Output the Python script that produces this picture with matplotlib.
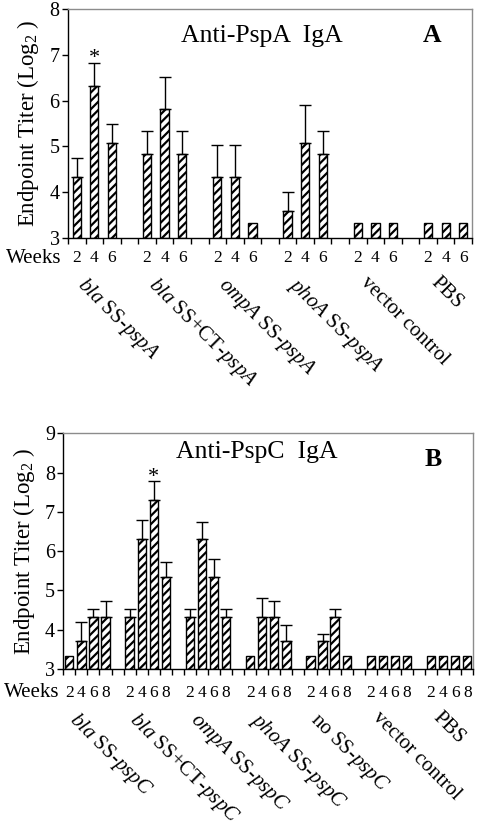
import matplotlib
matplotlib.use('Agg')
import matplotlib.pyplot as plt
import numpy as np

plt.rcParams['font.family'] = ['Liberation Serif', 'DejaVu Serif']
plt.rcParams['mathtext.fontset'] = 'custom'
plt.rcParams['mathtext.rm'] = 'Liberation Serif'
plt.rcParams['mathtext.it'] = 'Liberation Serif:italic'
plt.rcParams['mathtext.bf'] = 'Liberation Serif:bold'
plt.rcParams['hatch.linewidth'] = 1.6

# ---------------- Data ----------------
groups_A = [r'$\mathit{bla}$ SS-$\mathit{pspA}$',
            r'$\mathit{bla}$ SS+CT-$\mathit{pspA}$',
            r'$\mathit{ompA}$ SS-$\mathit{pspA}$',
            r'$\mathit{phoA}$ SS-$\mathit{pspA}$',
            'vector control', 'PBS']
weeks_A = ['2', '4', '6']
values_A = [4.33, 6.32, 5.07,
            4.83, 5.81, 4.83,
            4.33, 4.33, 3.32,
            3.60, 5.07, 4.83,
            3.32, 3.32, 3.32,
            3.32, 3.32, 3.32]
errors_A = [0.42, 0.51, 0.43,
            0.50, 0.71, 0.50,
            0.69, 0.69, 0.0,
            0.40, 0.84, 0.50,
            0.0, 0.0, 0.0,
            0.0, 0.0, 0.0]
sig_A = [1]

groups_B = [r'$\mathit{bla}$ SS-$\mathit{pspC}$',
            r'$\mathit{bla}$ SS+CT-$\mathit{pspC}$',
            r'$\mathit{ompA}$ SS-$\mathit{pspC}$',
            r'$\mathit{phoA}$ SS-$\mathit{pspC}$',
            r'no SS-$\mathit{pspC}$',
            'vector control', 'PBS']
weeks_B = ['2', '4', '6', '8']
values_B = [3.32, 3.71, 4.33, 4.33,
            4.33, 6.31, 7.30, 5.33,
            4.33, 6.31, 5.33, 4.33,
            3.32, 4.33, 4.33, 3.71,
            3.32, 3.71, 4.33, 3.32,
            3.32, 3.32, 3.32, 3.32,
            3.32, 3.32, 3.32, 3.32]
errors_B = [0.0, 0.48, 0.20, 0.40,
            0.20, 0.49, 0.48, 0.39,
            0.20, 0.44, 0.47, 0.20,
            0.0, 0.49, 0.41, 0.42,
            0.0, 0.19, 0.20, 0.0,
            0.0, 0.0, 0.0, 0.0,
            0.0, 0.0, 0.0, 0.0]
sig_B = [6]


def panel(ax, groups, weeks, vals, errs, sig, ylim, title, letter,
          barw, title_xy, letter_xy, week_off, label_dx, label_off, weeks_dx):
    n = len(weeks)
    ng = len(groups)
    pos = np.array([g * (n + 1) + i for g in range(ng) for i in range(n)], float)
    nslots = ng * (n + 1) - 1
    vals = np.array(vals)
    errs = np.array(errs)
    ax.bar(pos, vals - ylim[0], bottom=ylim[0], width=barw, color='white',
           edgecolor='black', hatch='////', linewidth=1.0, zorder=2)
    m = errs > 0
    ax.errorbar(pos[m], vals[m], yerr=[np.zeros(m.sum()), errs[m]], fmt='none',
                ecolor='black', elinewidth=1.0, capsize=4.5, capthick=1.0, zorder=3)
    for i in sig:
        ax.annotate('*', xy=(pos[i], vals[i] + errs[i]), xytext=(0, -4),
                    textcoords='offset points', ha='center', va='bottom', fontsize=16)
    ax.set_xlim(-0.5, nslots - 0.5)
    ax.set_ylim(*ylim)
    ax.set_xticks(np.arange(-0.5, nslots, 1.0))
    ax.set_xticklabels([])
    ax.set_yticks(np.arange(ylim[0], ylim[1] + 1, 1))
    ax.tick_params(axis='x', direction='out', length=4, width=1, color='black')
    ax.tick_params(axis='y', direction='out', length=4, width=1, labelsize=14.5, pad=2)
    for s in ['left', 'bottom']:
        ax.spines[s].set_color('black')
        ax.spines[s].set_linewidth(1.0)
    for s in ['top', 'right']:
        ax.spines[s].set_color('#8c8c8c')
        ax.spines[s].set_linewidth(1.0)
    wk_labels = weeks * ng
    for p, w in zip(pos, wk_labels):
        ax.annotate(w, xy=(p, 0), xycoords=('data', 'axes fraction'),
                    xytext=(0, -week_off), textcoords='offset points',
                    ha='center', va='center', fontsize=12.5)
    ax.annotate('Weeks', xy=(0, 0), xycoords='axes fraction',
                xytext=(weeks_dx, -week_off), textcoords='offset points',
                ha='right', va='center', fontsize=15)
    for g, lab in enumerate(groups):
        ax.annotate(lab, xy=(pos[g * n] - 0.35, 0), xycoords=('data', 'axes fraction'),
                    xytext=(label_dx, -label_off), textcoords='offset points',
                    ha='left', va='top', rotation=-45, rotation_mode='anchor',
                    fontsize=15)
    ax.text(title_xy[0], title_xy[1], title, transform=ax.transAxes,
            ha='center', va='center', fontsize=18.5)
    ax.text(letter_xy[0], letter_xy[1], letter, transform=ax.transAxes,
            ha='center', va='center', fontsize=18.5, fontweight='bold')
    ax.set_ylabel(r'Endpoint Titer (Log$_2$ )', fontsize=16.5)


fig = plt.figure(figsize=(4.8, 8.27), dpi=100)
axA = fig.add_axes([68 / 480, 1 - 238 / 827, 404 / 480, 229 / 827])
axB = fig.add_axes([63.3 / 480, 1 - 669 / 827, 410 / 480, 235.7 / 827])

panel(axA, groups_A, weeks_A, values_A, errors_A, sig_A, (3, 8),
      'Anti-PspA  IgA', 'A', 0.47, (0.48, 0.882), (0.901, 0.886),
      14.5, 13, 25.5, -5)
panel(axB, groups_B, weeks_B, values_B, errors_B, sig_B, (3, 9),
      'Anti-PspC  IgA', 'B', 0.69, (0.472, 0.921), (0.902, 0.887),
      17, 11, 28.5, -3)

axA.yaxis.label.set_va('center')
axA.yaxis.set_label_coords(-0.099, 0.5)
axB.yaxis.label.set_va('center')
axB.yaxis.set_label_coords(-0.096, 0.5)

fig.savefig('out.png', dpi=100)
